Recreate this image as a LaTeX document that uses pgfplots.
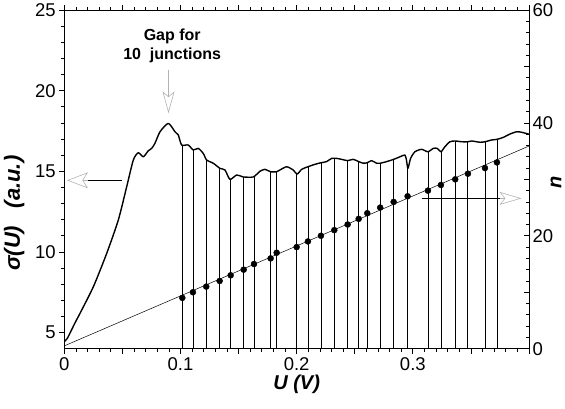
\documentclass[border=0pt]{standalone}
\usepackage{fontspec}
\setmainfont{Liberation Sans}
\usepackage{pgfplots}
\pgfplotsset{compat=1.18}
\usetikzlibrary{arrows.meta,calc}

\begin{document}
\begin{tikzpicture}
\pgfplotsset{
  common/.style={
    width=464.7pt, height=338.7pt, scale only axis,
    xmin=0, xmax=0.4,
    axis line style={line width=0.8pt},
    tick style={black, line width=0.7pt},
    major tick length=5pt, minor tick length=3pt,
    tick label style={font=\fontsize{18.5}{21}\selectfont},
    /pgf/number format/assume math mode=true,
    label style={font=\fontsize{20}{24}\selectfont\bfseries\itshape},
  }
}
% left axis: sigma(U)
\begin{axis}[common, name=main,
  ymin=4, ymax=25,
  tick align=outside,
  xtick={0,0.05,0.1,0.15,0.2,0.25,0.3,0.35,0.4},
  xticklabels={0,,0.1,,0.2,,0.3,,},
  minor x tick num=4,
  ytick={5,10,15,20,25},
  yticklabels={5,10,15,20,25},
  minor y tick num=4,
  ytick pos=left, xtick pos=both,
  xlabel={U (V)},
  xlabel style={at={(axis description cs:0.5,-0.106)}, anchor=center},
  ylabel={σ(U)\hspace{0.8em}(a.u.)},
  ylabel style={at={(axis description cs:-0.108,0.40)}, anchor=center,
    font=\fontsize{22}{26}\selectfont\bfseries\itshape},
]
% junction lines up to the curve
\addplot[ycomb, black, line width=0.8pt, no marks] coordinates {
  (0.1016,16.6) (0.1107,16.35) (0.1222,15.75) (0.1337,15.2) (0.1432,14.5)
  (0.1544,14.65) (0.1633,14.65) (0.1776,14.97) (0.1828,14.97) (0.2000,14.85)
  (0.2097,15.28) (0.2209,15.53) (0.2324,15.8) (0.2439,15.66) (0.2534,15.6)
  (0.2608,15.53) (0.2719,15.5) (0.2835,15.74) (0.2955,15.2) (0.3130,16.21)
  (0.3242,16.21) (0.3365,16.88) (0.3474,16.83) (0.3621,16.83) (0.3724,16.98)
};
\addplot[black, line width=1.4pt, no marks, line join=round, smooth, tension=0.4] coordinates {
  (0.000,4.45) (0.0026,4.64) (0.0092,5.6) (0.0135,6.19) (0.025,7.84)
  (0.0365,9.91) (0.0465,11.98) (0.0537,14.04) (0.0594,15.7) (0.0637,16.15)
  (0.068,15.9) (0.0723,16.27) (0.0752,16.42) (0.078,16.73) (0.0824,17.45)
  (0.0895,17.97) (0.0953,17.45) (0.0981,17.25) (0.101,16.63) (0.1067,16.63)
  (0.111,16.32) (0.1153,16.42) (0.1196,16.11) (0.1225,15.7) (0.1282,15.5)
  (0.134,15.18) (0.1383,15.08) (0.1426,14.5) (0.1484,14.77) (0.154,14.65)
  (0.1627,14.65) (0.1684,15.0) (0.1727,15.12) (0.1776,14.97) (0.1828,14.97)
  (0.1856,15.08) (0.1914,15.28) (0.197,15.08) (0.2005,14.83) (0.2043,15.12)
  (0.2097,15.28) (0.2157,15.43) (0.2209,15.53) (0.2258,15.6) (0.2301,15.8)
  (0.2344,15.8) (0.2387,15.74) (0.2439,15.66) (0.2487,15.74) (0.2534,15.6)
  (0.2573,15.5) (0.2608,15.53) (0.2645,15.66) (0.2688,15.5) (0.2719,15.5)
  (0.2775,15.6) (0.2835,15.74) (0.289,15.9) (0.2932,16.01) (0.2945,15.7)
  (0.2958,15.18) (0.2981,15.8) (0.3018,16.21) (0.3076,16.36) (0.313,16.21)
  (0.3176,16.42) (0.321,16.42) (0.3242,16.21) (0.3276,16.52) (0.3319,16.83)
  (0.3365,16.88) (0.342,16.83) (0.3474,16.83) (0.3506,16.88) (0.3577,16.8)
  (0.3621,16.83) (0.3678,16.94) (0.3724,16.98) (0.3778,17.1) (0.3836,17.31)
  (0.3893,17.45) (0.3936,17.42) (0.4,17.3)
};
% annotations
\node[font=\fontsize{16}{18.3}\selectfont\bfseries, align=center]
  at (axis cs:0.0929,22.77) {Gap for\\10\ \ junctions};
\draw[gray!60, line width=0.6pt, -{Stealth[open,length=22pt,width=12pt,inset=5pt]}]
  (axis cs:0.0897,21.28) -- (axis cs:0.0897,18.59);
\draw[black, line width=0.8pt] (axis cs:0.0494,14.44) -- (axis cs:0.0204,14.44);
\draw[gray!60, line width=0.6pt, -{Stealth[open,length=21pt,width=16pt,inset=5pt]}]
  (axis cs:0.0204,14.44) -- (axis cs:0.0023,14.44);
\draw[black, line width=0.8pt] (axis cs:0.3076,13.32) -- (axis cs:0.375,13.32);
\draw[gray!60, line width=0.6pt, -{Stealth[open,length=22pt,width=13pt,inset=5pt]}]
  (axis cs:0.375,13.32) -- (axis cs:0.3936,13.32);
\end{axis}

% right axis: n
\begin{axis}[common,
  ymin=0, ymax=60,
  axis y line*=right, axis x line=none,
  tick align=inside,
  ytick={0,10,20,30,40,50,60},
  yticklabels={0,,20,,40,,60},
  minor y tick num=4,
  ylabel={n},
  ylabel style={at={(axis description cs:1.058,0.492)}, anchor=center},
]
\addplot[black, line width=0.5pt, no marks] coordinates {(0,0.5) (0.4,35.9)};
\addplot[only marks, mark=*, mark size=3pt, black] coordinates {
  (0.1016,9) (0.1107,10) (0.1222,11) (0.1337,12) (0.1432,13) (0.1544,14)
  (0.1633,15) (0.1776,16) (0.1828,17) (0.2000,18) (0.2097,19) (0.2209,20)
  (0.2324,21) (0.2439,22) (0.2534,23) (0.2608,24) (0.2719,25) (0.2835,26)
  (0.2955,27) (0.3130,28) (0.3242,29) (0.3365,30) (0.3474,31) (0.3621,32)
  (0.3724,33)
};
\end{axis}
\pgfresetboundingbox
\useasboundingbox ($(main.south west)+(-64.3pt,-60.3pt)$) rectangle ($(main.north east)+(36pt,10pt)$);
\end{tikzpicture}
\end{document}
